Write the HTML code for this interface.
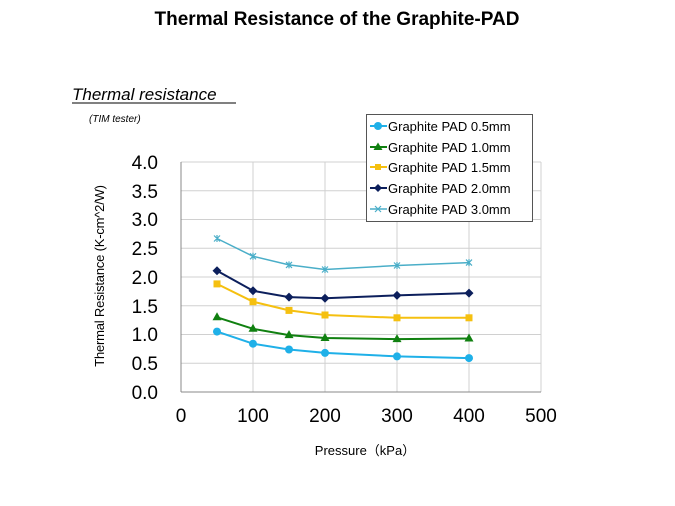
<!DOCTYPE html>
<html><head><meta charset="utf-8"><style>
html,body{margin:0;padding:0;background:#fff;}
svg{display:block;font-family:"Liberation Sans","Noto Sans CJK JP",sans-serif;}
</style></head><body>
<svg width="675" height="506" viewBox="0 0 675 506" xmlns="http://www.w3.org/2000/svg">
<text x="337" y="25" text-anchor="middle" font-size="19" font-weight="bold">Thermal Resistance of the Graphite-PAD</text>
<text x="72" y="100" font-size="17" font-style="italic">Thermal resistance</text>
<line x1="72" y1="103" x2="236" y2="103" stroke="#000" stroke-width="1"/>
<text x="89" y="122" font-size="10" font-style="italic">(TIM tester)</text>
<g stroke="#d0d0d0" stroke-width="1">
<line x1="181" y1="162" x2="541" y2="162"/><line x1="181" y1="190.75" x2="541" y2="190.75"/>
<line x1="181" y1="219.5" x2="541" y2="219.5"/><line x1="181" y1="248.25" x2="541" y2="248.25"/>
<line x1="181" y1="277" x2="541" y2="277"/><line x1="181" y1="305.75" x2="541" y2="305.75"/>
<line x1="181" y1="334.5" x2="541" y2="334.5"/><line x1="181" y1="363.25" x2="541" y2="363.25"/>
<line x1="253" y1="162" x2="253" y2="392"/><line x1="325" y1="162" x2="325" y2="392"/>
<line x1="397" y1="162" x2="397" y2="392"/><line x1="469" y1="162" x2="469" y2="392"/>
<line x1="541" y1="162" x2="541" y2="392"/>
</g>
<line x1="181" y1="162" x2="181" y2="392" stroke="#888"/>
<line x1="181" y1="392" x2="541" y2="392" stroke="#888"/>
<g font-size="19" text-anchor="end">
<text x="158" y="169">4.0</text><text x="158" y="198">3.5</text><text x="158" y="226">3.0</text>
<text x="158" y="255">2.5</text><text x="158" y="284">2.0</text><text x="158" y="313">1.5</text>
<text x="158" y="341">1.0</text><text x="158" y="370">0.5</text><text x="158" y="399">0.0</text>
</g>
<g font-size="19" text-anchor="middle">
<text x="181" y="422">0</text><text x="253" y="422">100</text><text x="325" y="422">200</text>
<text x="397" y="422">300</text><text x="469" y="422">400</text><text x="541" y="422">500</text>
</g>
<text x="365" y="455" font-size="13" text-anchor="middle">Pressure（kPa）</text>
<text transform="translate(104,276) rotate(-90)" font-size="13" text-anchor="middle" letter-spacing="-0.2">Thermal Resistance (K-cm^2/W)</text>
<g fill="none" stroke-width="2" stroke-linejoin="round">
<polyline stroke="#1fb0e8" points="217,331.6 253,343.7 289,349.5 325,352.9 397,356.4 469,358.1"/>
<polyline stroke="#108010" points="217,317.3 253,328.8 289,335.1 325,338 397,339.1 469,338.5"/>
<polyline stroke="#f5c010" points="217,283.9 253,301.7 289,310.4 325,315 397,317.8 469,317.8"/>
<polyline stroke="#0c1f5c" points="217,270.7 253,290.8 289,297.1 325,298.3 397,295.4 469,293.1"/>
<polyline stroke="#4aaec8" stroke-width="1.5" points="217,238.5 253,256.3 289,264.9 325,269.5 397,265.5 469,262.6"/>
</g>
<g fill="#1fb0e8"><circle cx="217" cy="331.6" r="4"/><circle cx="253" cy="343.7" r="4"/><circle cx="289" cy="349.5" r="4"/><circle cx="325" cy="352.9" r="4"/><circle cx="397" cy="356.4" r="4"/><circle cx="469" cy="358.1" r="4"/></g>
<g fill="#108010">
<polygon points="217,312.3 221.5,320.3 212.5,320.3"/><polygon points="253,323.8 257.5,331.8 248.5,331.8"/><polygon points="289,330.1 293.5,338.1 284.5,338.1"/><polygon points="325,333 329.5,341 320.5,341"/><polygon points="397,334.1 401.5,342.1 392.5,342.1"/><polygon points="469,333.5 473.5,341.5 464.5,341.5"/></g>
<g fill="#f5c010"><rect x="213.5" y="280.4" width="7" height="7"/><rect x="249.5" y="298.2" width="7" height="7"/><rect x="285.5" y="306.9" width="7" height="7"/><rect x="321.5" y="311.5" width="7" height="7"/><rect x="393.5" y="314.3" width="7" height="7"/><rect x="465.5" y="314.3" width="7" height="7"/></g>
<g fill="#0c1f5c">
<polygon points="217,266.2 221.5,270.7 217,275.2 212.5,270.7"/><polygon points="253,286.3 257.5,290.8 253,295.3 248.5,290.8"/><polygon points="289,292.6 293.5,297.1 289,301.6 284.5,297.1"/><polygon points="325,293.8 329.5,298.3 325,302.8 320.5,298.3"/><polygon points="397,290.9 401.5,295.4 397,299.9 392.5,295.4"/><polygon points="469,288.6 473.5,293.1 469,297.6 464.5,293.1"/></g>
<g stroke="#4aaec8" stroke-width="1.2">
<path d="M214,235.5l6,6M220,235.5l-6,6M217,235v7M250,253.3l6,6M256,253.3l-6,6M253,252.8v7M286,261.9l6,6M292,261.9l-6,6M289,261.4v7M322,266.5l6,6M328,266.5l-6,6M325,266v7M394,262.5l6,6M400,262.5l-6,6M397,262v7M466,259.6l6,6M472,259.6l-6,6M469,259.1v7"/></g>
<rect x="366.5" y="114.5" width="166" height="107" fill="#fff" stroke="#555"/>
<g font-size="13">
<text x="388" y="131">Graphite PAD 0.5mm</text><text x="388" y="152">Graphite PAD 1.0mm</text>
<text x="388" y="172">Graphite PAD 1.5mm</text><text x="388" y="193">Graphite PAD 2.0mm</text>
<text x="388" y="214">Graphite PAD 3.0mm</text>
</g>
<line x1="370" y1="126" x2="387" y2="126" stroke="#1fb0e8" stroke-width="2"/><circle cx="378" cy="126" r="4" fill="#1fb0e8"/>
<line x1="370" y1="147" x2="387" y2="147" stroke="#108010" stroke-width="2"/><polygon points="378,142.5 382.5,150 373.5,150" fill="#108010"/>
<line x1="370" y1="167" x2="387" y2="167" stroke="#f5c010" stroke-width="2"/><rect x="375" y="164" width="6" height="6" fill="#f5c010"/>
<line x1="370" y1="188" x2="387" y2="188" stroke="#0c1f5c" stroke-width="2"/><polygon points="378,184 382,188 378,192 374,188" fill="#0c1f5c"/>
<line x1="370" y1="209" x2="387" y2="209" stroke="#4aaec8" stroke-width="1.5"/><path d="M375,206l6,6M381,206l-6,6" stroke="#4aaec8" stroke-width="1.2"/>
</svg>
</body></html>
